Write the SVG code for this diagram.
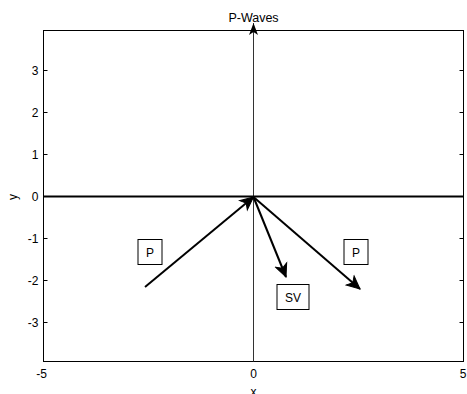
<svg xmlns="http://www.w3.org/2000/svg" width="467" height="394" viewBox="0 0 467 394">
<style>
text{font-family:"Liberation Sans",Arial,sans-serif;font-size:12px;fill:#000}
.tl{text-anchor:end}
.tc{text-anchor:middle}
.ax{fill:none;stroke:#000;stroke-width:1}
.tick{stroke:#000;stroke-width:1}
.vec{fill:none;stroke:#000;stroke-width:2}
.lbl{fill:#fff;stroke:#000;stroke-width:1}
</style>
<defs>
<marker id="ah" markerUnits="userSpaceOnUse" markerWidth="17" markerHeight="15" refX="14" refY="6.5" orient="auto" viewBox="0 0 17 13">
<path d="M14,6.5 L1,0.5 L4.5,6.5 L1,12.5 Z" fill="#000" stroke="#000" stroke-width="1" stroke-linejoin="miter"/>
</marker>
<marker id="ahs" markerUnits="userSpaceOnUse" markerWidth="14" markerHeight="12" refX="12" refY="5" orient="auto" viewBox="0 0 14 10">
<path d="M12,5 L0,0.5 L3,5 L0,9.5 Z" fill="#000"/>
</marker>
</defs>
<rect width="467" height="394" fill="#fff"/>
<g id="axes">
<rect class="ax" x="43.5" y="30.5" width="420" height="331"/>
<g class="tick">
<line x1="43.5" y1="70.5" x2="47.5" y2="70.5"/>
<line x1="43.5" y1="112.5" x2="47.5" y2="112.5"/>
<line x1="43.5" y1="154.5" x2="47.5" y2="154.5"/>
<line x1="43.5" y1="238.5" x2="47.5" y2="238.5"/>
<line x1="43.5" y1="280.5" x2="47.5" y2="280.5"/>
<line x1="43.5" y1="322.5" x2="47.5" y2="322.5"/>
<line x1="459.5" y1="70.5" x2="463.5" y2="70.5"/>
<line x1="459.5" y1="112.5" x2="463.5" y2="112.5"/>
<line x1="459.5" y1="154.5" x2="463.5" y2="154.5"/>
<line x1="459.5" y1="238.5" x2="463.5" y2="238.5"/>
<line x1="459.5" y1="280.5" x2="463.5" y2="280.5"/>
<line x1="459.5" y1="322.5" x2="463.5" y2="322.5"/>
<line x1="253.5" y1="361.5" x2="253.5" y2="357.5"/>
</g>
<text class="tl" x="38.5" y="75">3</text>
<text class="tl" x="38.5" y="117">2</text>
<text class="tl" x="38.5" y="159">1</text>
<text class="tl" x="38.5" y="201">0</text>
<text class="tl" x="38.5" y="243">-1</text>
<text class="tl" x="38.5" y="285">-2</text>
<text class="tl" x="38.5" y="327">-3</text>
<text class="tc" x="41.5" y="378">-5</text>
<text class="tc" x="253.5" y="378">0</text>
<text class="tc" x="463" y="378">5</text>
<text class="tc" x="253.5" y="396">x</text>
<text class="tc" transform="translate(17,197) rotate(-90)">y</text>
<text class="tc" x="253.5" y="22" style="font-size:12.5px">P-Waves</text>
</g>
<g id="connectors">
<line x1="253.5" y1="361.5" x2="253.5" y2="23" stroke="#333" stroke-width="1" marker-end="url(#ahs)"/>
<line x1="43.5" y1="196.5" x2="463.5" y2="196.5" stroke="#000" stroke-width="2"/>
<line class="vec" x1="145" y1="287" x2="253.5" y2="197" marker-end="url(#ah)"/>
<line class="vec" x1="253.5" y1="197" x2="286" y2="277" marker-end="url(#ah)"/>
<line class="vec" x1="253.5" y1="197" x2="360" y2="289" marker-end="url(#ah)"/>
</g>
<g id="label-p-incident">
<rect class="lbl" x="138" y="239.5" width="24" height="25"/>
<text class="tc" x="150" y="256.5">P</text>
</g>
<g id="label-p-reflected">
<rect class="lbl" x="344" y="239.5" width="24" height="25"/>
<text class="tc" x="356" y="256.5">P</text>
</g>
<g id="label-sv">
<rect class="lbl" x="277" y="284.5" width="32" height="25"/>
<text class="tc" x="293" y="301.5">SV</text>
</g>
</svg>
